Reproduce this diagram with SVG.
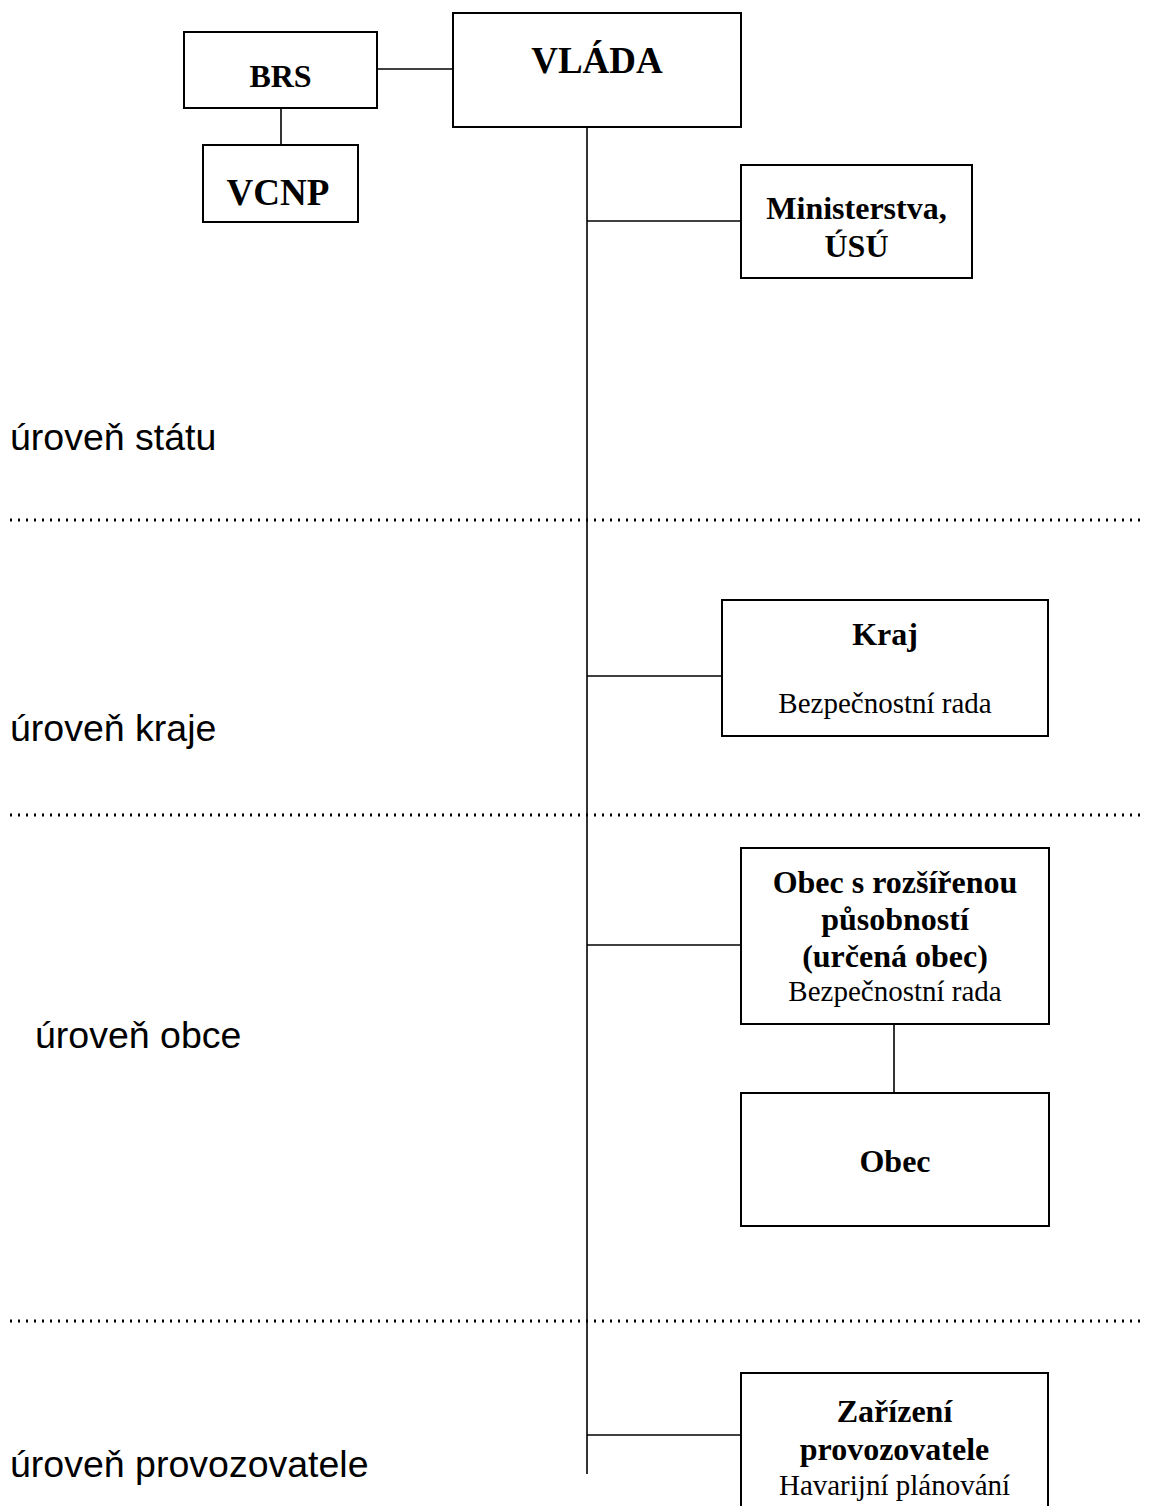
<svg xmlns="http://www.w3.org/2000/svg" width="1150" height="1506" viewBox="0 0 1150 1506">
  <style>
    .box { fill: #fff; stroke: #000; stroke-width: 2; }
    .link { stroke: #000; stroke-width: 1.6; fill: none; }
    .sep { stroke: #000; stroke-width: 3; stroke-dasharray: 2 6; fill: none; }
    .b { font-family: "Liberation Serif", "Times New Roman", serif; font-weight: bold; font-size: 32px; text-anchor: middle; fill: #000; }
    .r { font-family: "Liberation Serif", "Times New Roman", serif; font-size: 29px; text-anchor: middle; fill: #000; }
    .lvl { font-family: "Liberation Sans", Arial, sans-serif; font-size: 37.5px; fill: #000; }
  </style>

  <rect width="1150" height="1506" fill="#fff"/>

  <!-- level separators -->
  <g id="separators">
    <line class="sep" x1="10" y1="520" x2="1144" y2="520"/>
    <line class="sep" x1="10" y1="815" x2="1144" y2="815"/>
    <line class="sep" x1="10" y1="1321" x2="1144" y2="1321"/>
  </g>

  <!-- level labels -->
  <g id="levels">
    <text class="lvl" x="10" y="450">úroveň státu</text>
    <text class="lvl" x="10" y="741">úroveň kraje</text>
    <text class="lvl" x="35" y="1048">úroveň obce</text>
    <text class="lvl" x="10" y="1477">úroveň provozovatele</text>
  </g>

  <!-- connectors -->
  <g id="connectors">
    <line class="link" x1="377" y1="69" x2="453" y2="69"/>
    <line class="link" x1="281" y1="108" x2="281" y2="145"/>
    <line class="link" x1="587" y1="127" x2="587" y2="1474"/>
    <line class="link" x1="587" y1="221" x2="741" y2="221"/>
    <line class="link" x1="587" y1="676" x2="722" y2="676"/>
    <line class="link" x1="587" y1="945" x2="741" y2="945"/>
    <line class="link" x1="894" y1="1024" x2="894" y2="1093"/>
    <line class="link" x1="587" y1="1435" x2="741" y2="1435"/>
  </g>

  <g id="brs">
    <rect class="box" x="184" y="32" width="193" height="76"/>
    <text class="b" x="280.5" y="87">BRS</text>
  </g>

  <g id="vcnp">
    <rect class="box" x="203" y="145" width="155" height="77"/>
    <text class="b" x="278" y="205" style="font-size:37px">VCNP</text>
  </g>

  <g id="vlada">
    <rect class="box" x="453" y="13" width="288" height="114"/>
    <text class="b" x="597" y="73" style="font-size:37px">VLÁDA</text>
  </g>

  <g id="ministerstva">
    <rect class="box" x="741" y="165" width="231" height="113"/>
    <text class="b" x="856.5" y="219">Ministerstva,</text>
    <text class="b" x="856.5" y="257">ÚSÚ</text>
  </g>

  <g id="kraj">
    <rect class="box" x="722" y="600" width="326" height="136"/>
    <text class="b" x="885" y="645">Kraj</text>
    <text class="r" x="885" y="713">Bezpečnostní rada</text>
  </g>

  <g id="obec-rozsirena">
    <rect class="box" x="741" y="848" width="308" height="176"/>
    <text class="b" x="895" y="893">Obec s rozšířenou</text>
    <text class="b" x="895" y="930">působností</text>
    <text class="b" x="895" y="967">(určená obec)</text>
    <text class="r" x="895" y="1001">Bezpečnostní rada</text>
  </g>

  <g id="obec">
    <rect class="box" x="741" y="1093" width="308" height="133"/>
    <text class="b" x="895" y="1172">Obec</text>
  </g>

  <g id="zarizeni">
    <rect class="box" x="741" y="1373" width="307" height="140"/>
    <text class="b" x="894.5" y="1422">Zařízení</text>
    <text class="b" x="894.5" y="1460">provozovatele</text>
    <text class="r" x="894.5" y="1495">Havarijní plánování</text>
  </g>
</svg>
